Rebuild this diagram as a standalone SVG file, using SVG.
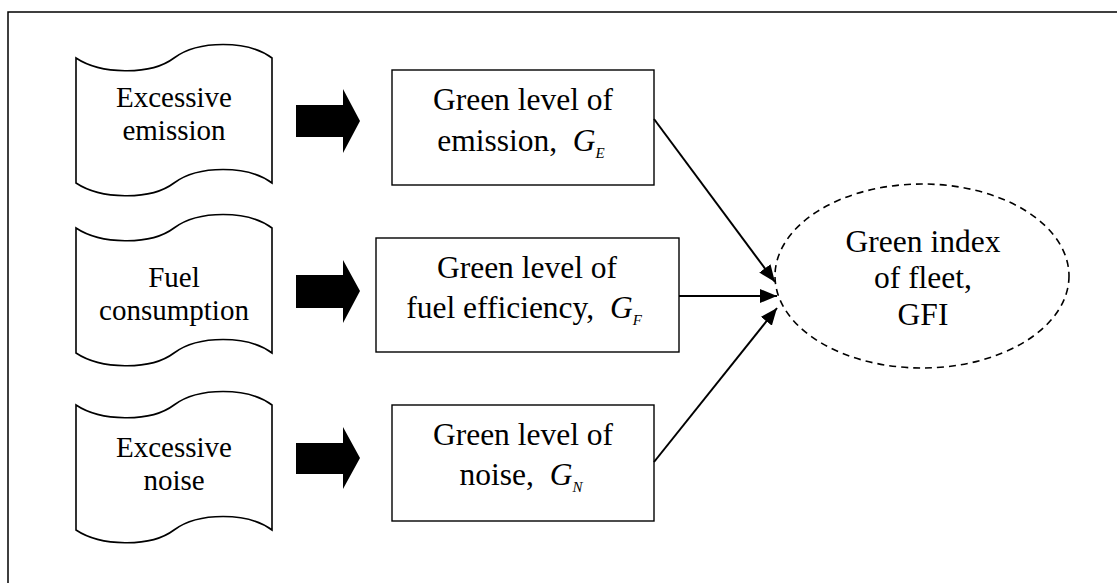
<svg xmlns="http://www.w3.org/2000/svg" width="1117" height="583" viewBox="0 0 1117 583">
<style>
text{font-family:'Liberation Serif','DejaVu Serif',serif;fill:#000;text-anchor:middle}
.tape{fill:#fff;stroke:#000;stroke-width:1.6}
.box{fill:#fff;stroke:#000;stroke-width:1.4}
.big{fill:#000}
.con{stroke:#000;stroke-width:2;fill:none}
.i{font-style:italic}
</style>
<defs>
<marker id="ah" markerUnits="userSpaceOnUse" markerWidth="18" markerHeight="14" refX="17" refY="7" orient="auto">
<path d="M0,0 L17,7 L0,14 Z" fill="#000"/>
</marker>
</defs>
<rect width="1117" height="583" fill="#fff"/>
<path d="M8,583 L8,12 L1117,12" fill="none" stroke="#000" stroke-width="1.5"/>

<g id="tape1" font-family="Liberation Serif, serif">
<path class="tape" d="M76,58 C100,74 150,76 174,58 C198,40 248,40 272,58 L272,183 C248,165 198,165 174,183 C150,201 100,199 76,183 Z"/>
<text font-size="29" x="174" y="107">Excessive</text>
<text font-size="29" x="174" y="140">emission</text>
</g>
<g id="tape2" font-family="Liberation Serif, serif">
<path class="tape" d="M76,228 C100,244 150,246 174,228 C198,210 248,210 272,228 L272,353 C248,335 198,335 174,353 C150,371 100,369 76,353 Z"/>
<text font-size="29" x="174" y="287">Fuel</text>
<text font-size="29" x="174" y="320">consumption</text>
</g>
<g id="tape3" font-family="Liberation Serif, serif">
<path class="tape" d="M76,405 C100,421 150,423 174,405 C198,387 248,387 272,405 L272,530 C248,512 198,512 174,530 C150,548 100,546 76,530 Z"/>
<text font-size="29" x="174" y="457">Excessive</text>
<text font-size="29" x="174" y="490">noise</text>
</g>

<g id="bigarrows">
<path class="big" d="M296,105 L343,105 L343,89 L360,121 L343,153 L343,137 L296,137 Z"/>
<path class="big" d="M296,275 L343,275 L343,260 L360,291 L343,323 L343,308 L296,308 Z"/>
<path class="big" d="M296,443 L343,443 L343,427 L360,458 L343,489 L343,474 L296,474 Z"/>
</g>

<g id="boxE">
<rect class="box" x="392" y="70" width="262" height="115"/>
<text font-size="31.5" x="523" y="110">Green level of</text>
<text font-size="31.5" x="521" y="151">emission,&#160; <tspan class="i">G</tspan><tspan class="i" font-size="15" dy="7">E</tspan></text>
</g>
<g id="boxF">
<rect class="box" x="376" y="238" width="303" height="114"/>
<text font-size="31.5" x="527" y="278">Green level of</text>
<text font-size="31.5" x="524" y="318">fuel efficiency,&#160; <tspan class="i">G</tspan><tspan class="i" font-size="15" dy="7">F</tspan></text>
</g>
<g id="boxN">
<rect class="box" x="392" y="405" width="262" height="116"/>
<text font-size="31.5" x="523" y="445">Green level of</text>
<text font-size="31.5" x="521" y="485">noise,&#160; <tspan class="i">G</tspan><tspan class="i" font-size="15" dy="7">N</tspan></text>
</g>

<g id="gfi">
<ellipse cx="922" cy="276" rx="147" ry="92" fill="#fff" stroke="#000" stroke-width="1.6" stroke-dasharray="7 5"/>
<text font-size="31.5" x="923" y="252">Green index</text>
<text font-size="31.5" x="923" y="288">of fleet,</text>
<text font-size="31.5" x="923" y="325">GFI</text>
</g>

<g id="connectors">
<line class="con" x1="654" y1="119" x2="775" y2="282" marker-end="url(#ah)"/>
<line class="con" x1="679" y1="296" x2="777" y2="296" marker-end="url(#ah)"/>
<line class="con" x1="654" y1="462" x2="777" y2="308" marker-end="url(#ah)"/>
</g>
</svg>
